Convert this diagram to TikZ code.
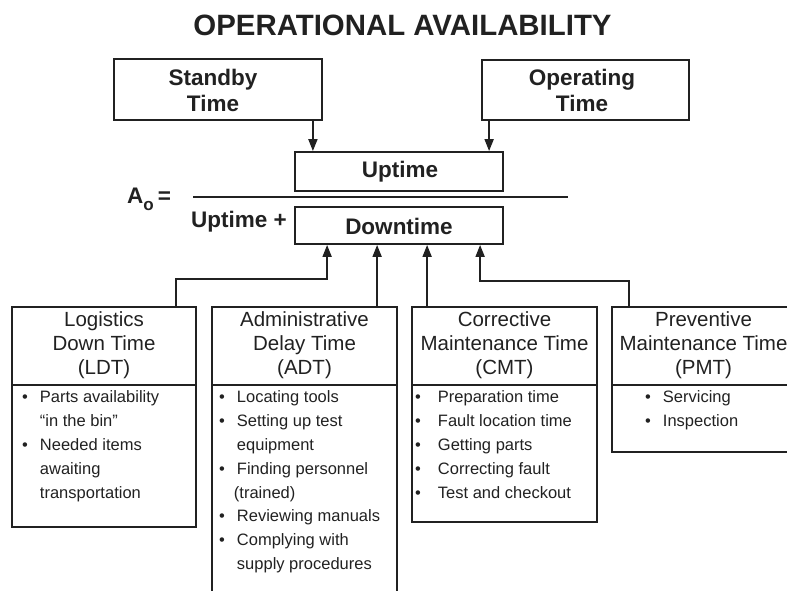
\documentclass[tikz,border=0pt]{standalone}
\usepackage{fontspec}
\setmainfont{Liberation Sans}
\usetikzlibrary{arrows.meta}
\definecolor{ink}{gray}{0.13}
\tikzset{
  box/.style={draw=ink, line width=1.8pt, inner sep=0pt},
  hdr/.style={text=ink, align=center, inner sep=0pt, font=\fontsize{20.5}{24}\selectfont},
  lbl/.style={text=ink, align=center, inner sep=0pt, font=\bfseries\fontsize{22.5}{26}\selectfont},
  lst/.style={text=ink, anchor=north west, inner sep=0pt, font=\fontsize{16.5}{23.8}\selectfont},
  conn/.style={draw=ink, line width=1.8pt},
  arr/.style={conn, -{Triangle[length=12pt,width=9pt]}},
}
\begin{document}
\begin{tikzpicture}[x=1pt, y=-1pt]
\useasboundingbox (0,0) rectangle (787,591);
\clip (0,0) rectangle (787,591);

% title
\node[text=ink, inner sep=0pt, font=\bfseries\fontsize{29.4}{30}\selectfont] (title) at (402.5,25) {OPERATIONAL AVAILABILITY};

% top boxes
\node[box, minimum width=208pt, minimum height=61pt] (standby) at (218,89.5) {};
\node[lbl] (standbyt) at (213,90) {Standby\\Time};
\node[box, minimum width=207pt, minimum height=60pt] (operating) at (585.5,90) {};
\node[lbl] (operatingt) at (582,90) {Operating\\Time};

% fraction
\node[box, minimum width=208pt, minimum height=39pt] (uptime) at (399,171.5) {};
\node[lbl] (uptimet) at (400,172) {Uptime};
\node[box, minimum width=208pt, minimum height=37pt] (downtime) at (399,225.5) {};
\node[lbl] (downtimet) at (399,226) {Downtime};
\coordinate (fl1) at (193,197);
\coordinate (fl2) at (568,197);
\draw[ink, line width=1.4pt] (fl1) -- (fl2);
\node[anchor=base west, text=ink, inner sep=0pt, font=\bfseries\fontsize{22.5}{24}\selectfont] (ao) at (127,203)
  {A\raisebox{-7pt}{\fontsize{17}{17}\selectfont o}\hspace{4pt}=};
\node[anchor=base east, text=ink, inner sep=0pt, font=\bfseries\fontsize{22.5}{24}\selectfont] (upplus) at (287,227) {Uptime +};

\coordinate (sbout) at ([xshift=-10pt]standby.south east);
\coordinate (opout) at ([xshift=8pt]operating.south west);
\draw[arr] (sbout) -- (sbout |- uptime.north);
\draw[arr] (opout) -- (opout |- uptime.north);

% lower boxes
\node[box, minimum width=184pt, minimum height=78pt] (ldth) at (104,346) {};
\node[box, minimum width=184pt, minimum height=142pt] (ldtb) at (104,456) {};
\node[box, minimum width=185pt, minimum height=78pt] (adth) at (304.5,346) {};
\node[box, minimum width=185pt, minimum height=225pt] (adtb) at (304.5,497.5) {};
\node[box, minimum width=185pt, minimum height=78pt] (cmth) at (504.5,346) {};
\node[box, minimum width=185pt, minimum height=137pt] (cmtb) at (504.5,453.5) {};
\node[box, minimum width=183pt, minimum height=78pt] (pmth) at (703.5,346) {};
\node[box, minimum width=183pt, minimum height=67pt] (pmtb) at (703.5,418.5) {};

\node[hdr] (ldtt) at (104,345) {Logistics\\Down Time\\(LDT)};
\node[hdr] (adtt) at (304.5,345) {Administrative\\Delay Time\\(ADT)};
\node[hdr] (cmtt) at (504.5,345) {Corrective\\Maintenance Time\\(CMT)};
\node[hdr] (pmtt) at (703.5,345) {Preventive\\Maintenance Time\\(PMT)};

% bullet lists
\node[lst] (ldtl) at (22,386) {\begin{tabular}{@{}l@{\hspace{12pt}}l@{}}
\textbullet & Parts availability\\
 & “in the bin”\\
\textbullet & Needed items\\
 & awaiting\\
 & transportation
\end{tabular}};
\node[lst] (adtl) at (219,386) {\begin{tabular}{@{}l@{\hspace{12pt}}l@{}}
\textbullet & Locating tools\\
\textbullet & Setting up test\\
 & equipment\\
\textbullet & Finding personnel\\
 & \hspace{-3pt}(trained)\\
\textbullet & Reviewing manuals\\
\textbullet & Complying with\\
 & supply procedures
\end{tabular}};
\node[lst] (cmtl) at (415,386) {\begin{tabular}{@{}l@{\hspace{17pt}}l@{}}
\textbullet & Preparation time\\
\textbullet & Fault location time\\
\textbullet & Getting parts\\
\textbullet & Correcting fault\\
\textbullet & Test and checkout
\end{tabular}};
\node[lst] (pmtl) at (645,386) {\begin{tabular}{@{}l@{\hspace{12pt}}l@{}}
\textbullet & Servicing\\
\textbullet & Inspection
\end{tabular}};

% connectors to downtime
\draw[arr] ([xshift=165pt]ldth.north west) -- ++(0,-27) -| ([xshift=33pt]downtime.south west);
\draw[arr] ([xshift=166pt]adth.north west) -- ([xshift=83pt]downtime.south west);
\draw[arr] ([xshift=16pt]cmth.north west) -- ([xshift=133pt]downtime.south west);
\draw[arr] ([xshift=18pt]pmth.north west) -- ++(0,-25) -| ([xshift=186pt]downtime.south west);
\end{tikzpicture}
\end{document}
